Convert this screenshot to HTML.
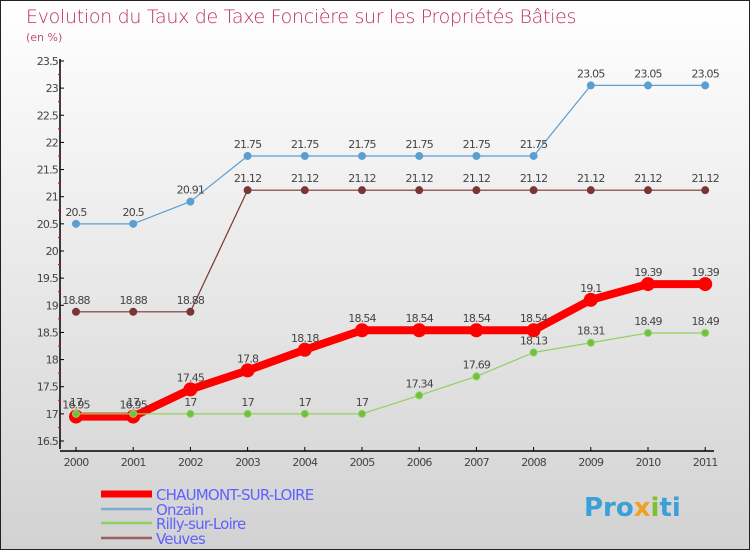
<!DOCTYPE html>
<html><head><meta charset="utf-8"><style>
body{margin:0}
#c{width:748px;height:548px;border:1px solid #222;background:linear-gradient(#fff,#d2d2d2);position:relative;font-family:"DejaVu Sans","Liberation Sans",sans-serif;overflow:hidden}
svg text{font-family:"DejaVu Sans","Liberation Sans",sans-serif}
</style></head><body>
<div id="c">
<svg id="s" width="748" height="548">
<text x="25" y="22" font-size="19" fill="#c0305a" style="font-weight:200;letter-spacing:-0.3px">Evolution du Taux de Taxe Foncière sur les Propriétés Bâties</text>
<text x="25" y="40" font-size="11" fill="#c0507a">(en %)</text>
<g id="g"></g>
<text x="583" y="515" font-size="26" font-weight="bold" fill="#3aa0d8">Pro<tspan fill="#f0a020">x</tspan><tspan fill="#80c030">i</tspan>ti</text>
</svg>
</div>
<script>
const years=[2000,2001,2002,2003,2004,2005,2006,2007,2008,2009,2010,2011];
const chaumont=[16.95,16.95,17.45,17.8,18.18,18.54,18.54,18.54,18.54,19.1,19.39,19.39];
const onzain=[20.5,20.5,20.91,21.75,21.75,21.75,21.75,21.75,21.75,23.05,23.05,23.05];
const rilly=[17,17,17,17,17,17,17.34,17.69,18.13,18.31,18.49,18.49];
const veuves=[18.88,18.88,18.88,21.12,21.12,21.12,21.12,21.12,21.12,21.12,21.12,21.12];
const yTicks=[16.5,17,17.5,18,18.5,19,19.5,20,20.5,21,21.5,22,22.5,23,23.5];
const NS='http://www.w3.org/2000/svg';
const g=document.getElementById('g');
const X=i=>75+i*57.2;
const Y=v=>440-(v-16.5)*54.29;
function el(t,a,p){const e=document.createElementNS(NS,t);for(const k in a)e.setAttribute(k,a[k]);(p||g).appendChild(e);return e;}
// axes
let a=el('line',{x1:59,y1:58,x2:59,y2:448,stroke:'#000','stroke-width':1.5});


a=el('line',{x1:59,y1:450,x2:713,y2:450,stroke:'#000','stroke-width':1.5});


yTicks.forEach((v,i)=>{
 el('line',{x1:59,y1:Y(v),x2:63,y2:Y(v),stroke:'#000'});
 if(i<yTicks.length-1)el('line',{x1:57,y1:Y(v+0.25),x2:60,y2:Y(v+0.25),stroke:'#e00'});
 const t=el('text',{x:57,y:Y(v)+4,'font-size':11,fill:'#444','text-anchor':'end','letter-spacing':'-0.8'});
 t.textContent=String(v);
 
 
});
years.forEach((yr,i)=>{
 el('line',{x1:X(i),y1:446,x2:X(i),y2:450,stroke:'#000'});
 const t=el('text',{x:X(i),y:465,'font-size':11,fill:'#444','text-anchor':'middle','letter-spacing':'-0.8'});
 t.textContent=yr;
 
 
});
function series(vals,color,w,r,name,dot){
 const p=el('polyline',{points:vals.map((v,i)=>X(i)+','+Y(v)).join(' '),fill:'none',stroke:color,'stroke-width':w,'stroke-linejoin':'round'});
 
 
 vals.forEach((v,i)=>{
  const c=el('circle',{cx:X(i),cy:Y(v),r:r,fill:dot,stroke:color,'stroke-width':1});
  
  
  const t=el('text',{x:X(i),y:Y(v)-8,'font-size':11,fill:'#444','text-anchor':'middle','letter-spacing':'-0.8'});
  t.textContent=String(v);
  
  
 });
}
series(onzain,'#5a9fd0',1.2,3.5,'onzain','#5a9fd0');
series(veuves,'#7a3535',1.2,3.5,'veuves','#7a3535');
series(chaumont,'#f00',8,6.5,'chaumont','#f00');
series(rilly,'#90d060',1.2,3.5,'rilly','#70c040');
const names=['CHAUMONT-SUR-LOIRE','Onzain','Rilly-sur-Loire','Veuves'];
const cols=['#f00','#7aaed0','#90d060','#9a6060'];
names.forEach((n,i)=>{
 const y=[493,508,522,537][i];
 el('line',{x1:100,y1:y,x2:151,y2:y,stroke:cols[i],'stroke-width':i==0?7:2.5});
 const t=el('text',{x:155,y:y+6,'font-size':15,fill:'#6060ff','letter-spacing':'-0.8'});
 t.textContent=n;
 
 
});
</script>
</body></html>
